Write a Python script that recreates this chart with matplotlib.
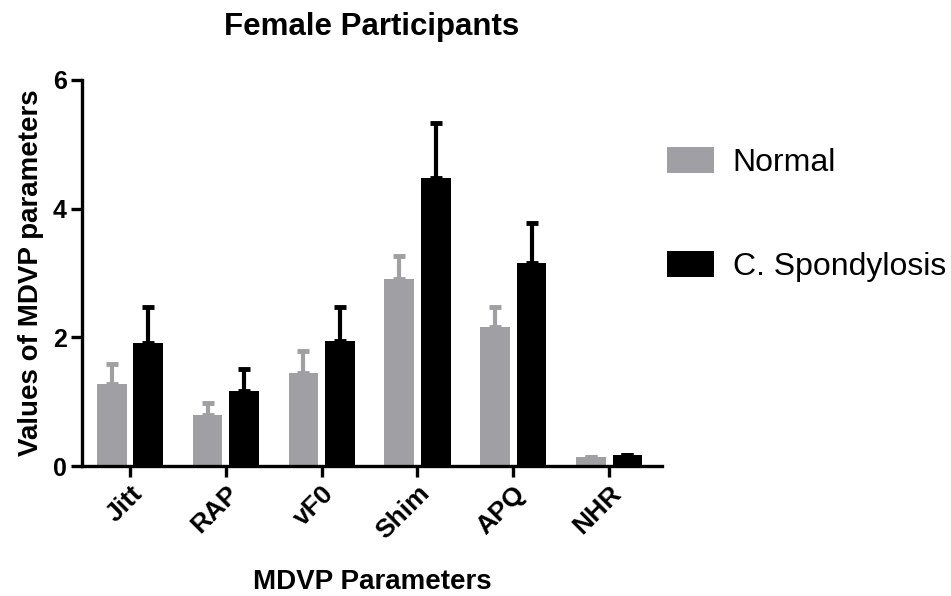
import matplotlib.pyplot as plt
import matplotlib.transforms as mtransforms
import numpy as np
from matplotlib.patches import Patch

plt.rcParams['font.family'] = ['Liberation Sans', 'DejaVu Sans']

params = ['Jitt', 'RAP', 'vF0', 'Shim', 'APQ', 'NHR']
normal = [1.28, 0.79, 1.45, 2.91, 2.16, 0.14]
normal_err = [0.31, 0.19, 0.34, 0.36, 0.31, 0.0]
spond = [1.91, 1.17, 1.94, 4.48, 3.16, 0.17]
spond_err = [0.56, 0.34, 0.53, 0.85, 0.62, 0.0]

gray = '#a0a0a4'
x = np.arange(len(params))
w = 0.31

fig = plt.figure(figsize=(9.51, 5.96), dpi=100)
ax = fig.add_axes([0.0862, 0.218, 0.6098, 0.648])

ax.bar(x - 0.19, normal, w, color=gray, zorder=2)
ax.bar(x + 0.19, spond, w, color='black', zorder=2)
# only the upper error bar is drawn
ax.errorbar(x - 0.19, normal, yerr=[np.zeros(6), normal_err], fmt='none',
            ecolor=gray, elinewidth=3, capsize=4.5, capthick=3.5, zorder=1)
ax.errorbar(x + 0.19, spond, yerr=[np.zeros(6), spond_err], fmt='none',
            ecolor='black', elinewidth=3, capsize=4.5, capthick=3.5, zorder=1)

ax.set_xlim(-0.5, 5.55)
ax.set_ylim(0, 6)
ax.set_yticks([0, 2, 4, 6])
ax.set_xticks(x)
ax.set_xticklabels(params, rotation=45, ha='right', va='top',
                   rotation_mode='anchor', fontweight='bold', fontsize=19)
shift = mtransforms.ScaledTranslation(1 / 100, -3 / 100, fig.dpi_scale_trans)
for lab in ax.get_xticklabels():
    lab.set_transform(lab.get_transform() + shift)
for lab in ax.get_yticklabels():
    lab.set_fontweight('bold')
    lab.set_fontsize(18)

for s in ['top', 'right']:
    ax.spines[s].set_visible(False)
for s in ['left', 'bottom']:
    ax.spines[s].set_linewidth(2.4)
ax.tick_params(width=2.4, length=8, pad=3)

ax.set_title('Female Participants', fontweight='bold', fontsize=22.5, pad=32)
ax.set_xlabel('MDVP Parameters', fontweight='bold', fontsize=20, labelpad=18)
ax.set_ylabel('Values of MDVP parameters', fontweight='bold', fontsize=20, labelpad=6)

handles = [Patch(facecolor=gray, label='Normal'),
           Patch(facecolor='black', label='C. Spondylosis')]
fig.legend(handles=handles, loc='upper left', bbox_to_anchor=(0.701, 0.753),
           frameon=False, fontsize=23, handlelength=1.47, handleheight=0.85,
           labelspacing=2.3, handletextpad=0.6, borderpad=0, borderaxespad=0)

fig.savefig('out.png', dpi=100)
